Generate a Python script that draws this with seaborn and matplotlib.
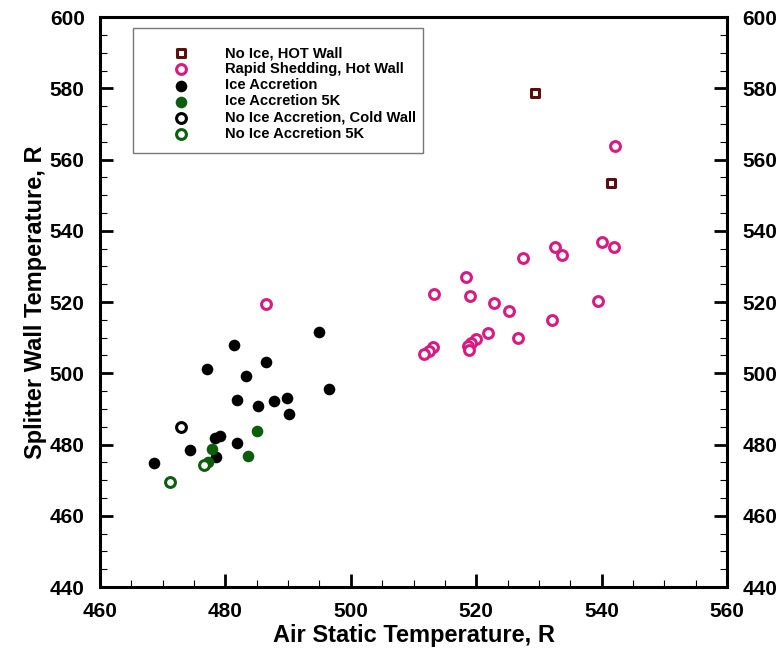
#!/usr/bin/env python3
# Splitter wall temperature vs air static temperature, per icing condition

import pandas as pd
import seaborn as sns
import matplotlib.pyplot as plt
from matplotlib.patches import Rectangle
from matplotlib.ticker import MultipleLocator

# --- data (R) ---
hot_wall_x = [529.4, 541.5]
hot_wall_y = [578.6, 553.5]

shedding_x = [542.1, 540.1, 542.0, 532.6, 533.7, 527.5, 518.4, 513.3, 519.0, 522.9,
              525.3, 539.4, 532.1, 521.8, 526.6, 520.0, 519.2, 518.7, 518.9, 513.1,
              512.4, 511.7, 486.4]
shedding_y = [563.9, 536.9, 535.5, 535.4, 533.2, 532.3, 527.1, 522.4, 521.6, 519.6,
              517.6, 520.4, 515.0, 511.4, 509.8, 509.5, 508.6, 507.8, 506.5, 507.3,
              506.3, 505.4, 519.4]

accretion_x = [495.0, 481.4, 486.5, 477.0, 483.3, 496.6, 481.9, 485.2, 487.8, 489.8,
               490.1, 479.1, 478.3, 481.9, 474.3, 468.6, 478.5]
accretion_y = [511.6, 507.9, 503.3, 501.2, 499.2, 495.5, 492.4, 490.7, 492.1, 493.1,
               488.6, 482.4, 481.7, 480.5, 478.4, 474.7, 476.4]

accretion5k_x = [485.1, 477.8, 483.6, 477.2]
accretion5k_y = [483.8, 478.7, 476.8, 475.0]

cold_wall_x = [472.9]
cold_wall_y = [485.0]

no_accr5k_x = [476.6, 471.2]
no_accr5k_y = [474.3, 469.4]

labels = ["No Ice, HOT Wall", "Rapid Shedding, Hot Wall", "Ice Accretion",
          "Ice Accretion 5K", "No Ice Accretion, Cold Wall", "No Ice Accretion 5K"]

PINK = "#d81b80"
BROWN = "#5a0f0f"
GREEN = "#0b5e0b"

# marker, face, edge, size, edge width
styles = [
    ("s", "white", BROWN, 34, 2.2),
    ("o", "white", PINK, 50, 2.2),
    ("o", "black", "black", 70, 0.0),
    ("o", GREEN, GREEN, 70, 0.0),
    ("o", "white", "black", 50, 2.2),
    ("o", "white", GREEN, 50, 2.2),
]


def main():
    groups = [(hot_wall_x, hot_wall_y), (shedding_x, shedding_y),
              (accretion_x, accretion_y), (accretion5k_x, accretion5k_y),
              (cold_wall_x, cold_wall_y), (no_accr5k_x, no_accr5k_y)]

    sns.set_style("ticks")
    plt.rcParams.update({
        'font.family': ['Liberation Sans', 'DejaVu Sans'],
        'font.weight': 'bold',
        'axes.labelweight': 'bold',
        'text.color': 'black', 'axes.labelcolor': 'black',
        'xtick.color': 'black', 'ytick.color': 'black',
        'axes.edgecolor': 'black',
    })

    fig = plt.figure(figsize=(7.78, 6.57), dpi=100)
    ax = fig.add_axes([0.1285, 0.1065, 0.806, 0.8675])

    for (xs, ys), lab, (mk, fc, ec, s, lw) in zip(groups, labels, styles):
        df = pd.DataFrame({'x': xs, 'y': ys})
        sns.scatterplot(data=df, x='x', y='y', ax=ax, marker=mk, s=s,
                        facecolor=fc, edgecolor=ec, linewidth=lw, label=lab, zorder=3)

    ax.set_xlim(460, 560)
    ax.set_ylim(440, 600)
    ax.xaxis.set_major_locator(MultipleLocator(20))
    ax.xaxis.set_minor_locator(MultipleLocator(5))
    ax.yaxis.set_major_locator(MultipleLocator(20))
    ax.yaxis.set_minor_locator(MultipleLocator(5))

    ax.tick_params(which='both', direction='in', left=True, right=True,
                   bottom=True, top=False, labelright=True, labelsize=15)
    ax.tick_params(which='major', length=9.5, width=2.0, pad=11)
    ax.tick_params(which='minor', length=5, width=0.8)
    for t in ax.get_xticklabels() + ax.get_yticklabels():
        t.set_fontweight('bold')
    for sp in ax.spines.values():
        sp.set_linewidth(2.2)

    ax.set_xlabel("Air Static Temperature, R", fontsize=17, labelpad=2)
    ax.set_ylabel("Splitter Wall Temperature, R", fontsize=17, labelpad=2)

    # legend box drawn by hand, legend itself frameless
    ax.add_patch(Rectangle((0.0526, 0.7614), 0.462, 0.2193, transform=ax.transAxes,
                           facecolor='white', edgecolor='#777777', linewidth=1.0, zorder=4))
    leg = ax.legend(loc='upper left', bbox_to_anchor=(0.084, 0.972), frameon=False,
                    fontsize=10.6, labelspacing=0.14, handletextpad=2.0,
                    scatterpoints=1, borderpad=0.4)
    leg.set_zorder(5)
    for t in leg.get_texts():
        t.set_fontweight('bold')

    fig.savefig("out.png", dpi=100)


if __name__ == "__main__":
    main()
